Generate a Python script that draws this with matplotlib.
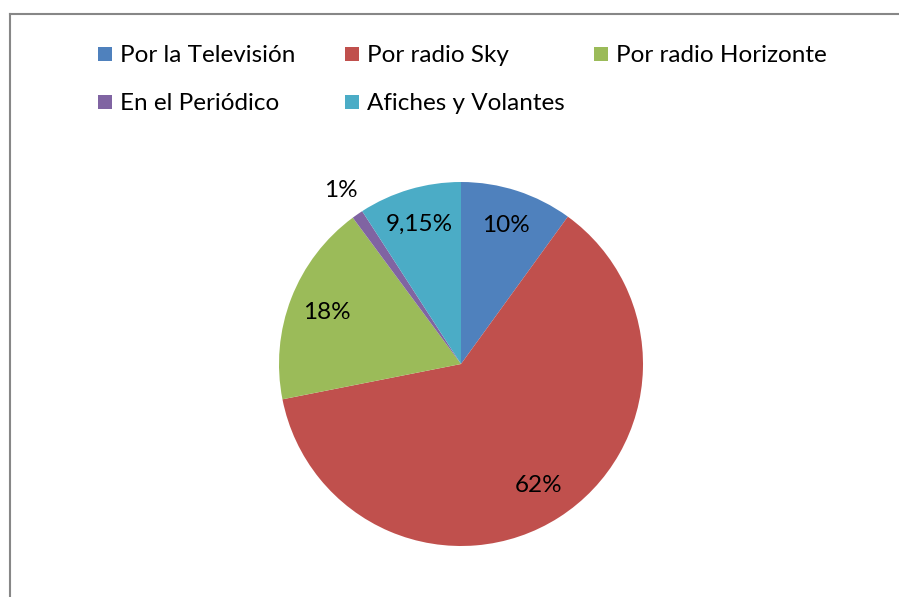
import matplotlib
matplotlib.use("Agg")
import matplotlib.pyplot as plt
from matplotlib.patches import Rectangle
from matplotlib.lines import Line2D
import numpy as np

categories = ["Por la Televisión", "Por radio Sky", "Por radio Horizonte",
              "En el Periódico", "Afiches y Volantes"]
values = [10, 62, 18, 1, 9.15]
value_labels = ["10%", "62%", "18%", "1%", "9,15%"]
colors = ["#4F81BD", "#C0504D", "#9BBB59", "#8064A2", "#4BACC6"]

W, H = 899, 597
fig = plt.figure(figsize=(W / 100, H / 100), dpi=100)
fig.patch.set_facecolor("white")

FONT = ["Lato", "DejaVu Sans"]
FS = 17.5

# Border (left and top visible)
fig.add_artist(Line2D([9.5 / W, 9.5 / W], [0, 1 - 13.5 / H], transform=fig.transFigure,
                      color="#878787", lw=1.5))
fig.add_artist(Line2D([9.5 / W, 1.0], [1 - 13.5 / H, 1 - 13.5 / H], transform=fig.transFigure,
                      color="#878787", lw=1.5))

# Pie
cx, cy, r = 461, 364, 182
ax = fig.add_axes([(cx - r) / W, (H - cy - r) / H, 2 * r / W, 2 * r / H])
wedges, _ = ax.pie(values, colors=colors, startangle=90, counterclock=False,
                   radius=1.0, wedgeprops=dict(linewidth=0))
ax.set_xlim(-1, 1)
ax.set_ylim(-1, 1)
ax.axis("off")

label_r = [0.80, 0.79, 0.79, 1.16, 0.80]
for w, lab, lr in zip(wedges, value_labels, label_r):
    mid = np.deg2rad((w.theta1 + w.theta2) / 2)
    ax.text(lr * np.cos(mid), lr * np.sin(mid), lab, ha="center", va="center",
            fontsize=FS, family=FONT, color="black", clip_on=False)

# Legend (manual, Excel-like equal columns, row-wise order)
marker_x = [98, 345, 594]
row_y = [54, 102]
sq = 14
for i, (cat, col) in enumerate(zip(categories, colors)):
    row, c = divmod(i, 3)
    mx = marker_x[c]
    my = row_y[row]
    fig.add_artist(Rectangle((mx / W, 1 - (my + sq / 2) / H), sq / W, sq / H,
                             transform=fig.transFigure, facecolor=col, edgecolor="none"))
    fig.text((mx + 22) / W, 1 - my / H, cat, ha="left", va="center_baseline",
             fontsize=FS, family=FONT, color="black")

fig.savefig("out.png", dpi=100, facecolor="white")
